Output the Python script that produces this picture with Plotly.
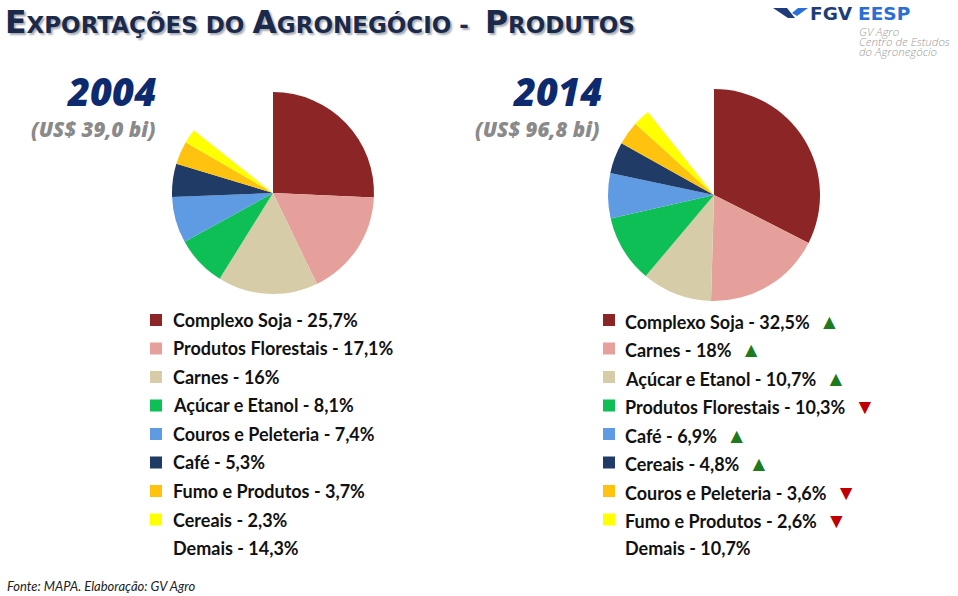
import plotly.graph_objects as go

# ---------------- data ----------------
cats_2004 = ["Complexo Soja", "Produtos Florestais", "Carnes", "Açúcar e Etanol",
             "Couros e Peleteria", "Café", "Fumo e Produtos", "Cereais", "Demais"]
vals_2004 = [25.7, 17.1, 16.0, 8.1, 7.4, 5.3, 3.7, 2.3, 14.3]

cats_2014 = ["Complexo Soja", "Carnes", "Açúcar e Etanol", "Produtos Florestais",
             "Café", "Cereais", "Couros e Peleteria", "Fumo e Produtos", "Demais"]
vals_2014 = [32.5, 18.0, 10.7, 10.3, 6.9, 4.8, 3.6, 2.6, 10.7]

slice_colors = ["#8C2626", "#E6A09C", "#D6CCA8", "#0DBF55", "#5E9BE2",
                "#1F3B66", "#FFC20E", "#FFFF00", "#FFFFFF"]

total_2004 = "US$ 39,0 bi"
total_2014 = "US$ 96,8 bi"

W, H = 958, 596


def fmt(v):
    s = f"{v:.1f}".replace(".", ",")
    return s[:-2] if s.endswith(",0") else s


def pie_domain(cx, cy, r):
    return dict(x=[(cx - r) / W, (cx + r) / W], y=[1 - (cy + r) / H, 1 - (cy - r) / H])


fig = go.Figure()
for cats, vals, (cx, cy, r) in [(cats_2004, vals_2004, (273, 193, 101)),
                                (cats_2014, vals_2014, (714, 195, 106))]:
    fig.add_trace(go.Pie(
        labels=cats, values=vals, sort=False, direction="clockwise", rotation=0,
        marker=dict(colors=slice_colors, line=dict(width=0)),
        textinfo="none", hoverinfo="label+percent", showlegend=False,
        domain=pie_domain(cx, cy, r),
    ))

annotations = []
shapes = []

# ---------------- title ----------------
big, small = 31.5, 23
title_html = (f"<span style='font-size:{big}px'>E</span>XPORTAÇÕES DO "
              f"<span style='font-size:{big}px'>A</span>GRONEGÓCIO -  "
              f"<span style='font-size:{big}px'>P</span>RODUTOS")
annotations.append(dict(
    text=f"<b>{title_html}</b>", x=3 / W, y=1 - 42 / H, xref="paper", yref="paper",
    xanchor="left", yanchor="bottom", showarrow=False,
    font=dict(family="DejaVu Sans", size=small, color="#1B2A4A",
              shadow="2px 2px 2px rgba(60,70,90,0.45)"),
))

# ---------------- year headers ----------------
for year, xr in [("2004", 158), ("2014", 604)]:
    annotations.append(dict(
        text=f"<i>{year}</i>", x=xr / W, y=1 - 91 / H, xref="paper", yref="paper",
        xanchor="right", yanchor="middle", showarrow=False,
        font=dict(family="Open Sans", size=38, color="#0E2A6E", weight=800),
    ))
for tot, xr in [(total_2004, 158), (total_2014, 602)]:
    annotations.append(dict(
        text=f"<i>({tot})</i>", x=xr / W, y=1 - 129 / H, xref="paper", yref="paper",
        xanchor="right", yanchor="middle", showarrow=False,
        font=dict(family="Open Sans", size=20.5, color="#8A8A8A", weight=800),
    ))

# ---------------- legends ----------------
row0, step = 320, 28.5
share_2004 = dict(zip(cats_2004, vals_2004))

for i, (c, v) in enumerate(zip(cats_2004, vals_2004)):
    y = row0 + i * step
    if i < len(cats_2004) - 1:
        shapes.append(dict(type="rect", xref="paper", yref="paper",
                           x0=150 / W, x1=162 / W, y0=1 - (y + 6) / H, y1=1 - (y - 6) / H,
                           fillcolor=slice_colors[i], line=dict(width=0)))
    annotations.append(dict(
        text=f"<b>{c} - {fmt(v)}%</b>", x=171 / W, y=1 - y / H, xref="paper", yref="paper",
        xanchor="left", yanchor="middle", showarrow=False,
        font=dict(family="Lato", size=18, color="#111111"),
    ))

for i, (c, v) in enumerate(zip(cats_2014, vals_2014)):
    y = row0 + i * step
    txt = f"<b>{c} - {fmt(v)}%</b>"
    if i < len(cats_2014) - 1:
        shapes.append(dict(type="rect", xref="paper", yref="paper",
                           x0=603 / W, x1=615 / W, y0=1 - (y + 6) / H, y1=1 - (y - 6) / H,
                           fillcolor=slice_colors[i], line=dict(width=0)))
        if v > share_2004.get(c, v):
            txt += "  <span style='color:#1E7A1E;font-size:21px'>▲</span>"
        elif v < share_2004.get(c, v):
            txt += "  <span style='color:#C00000;font-size:21px'>▼</span>"
    annotations.append(dict(
        text=txt, x=623 / W, y=1 - y / H, xref="paper", yref="paper",
        xanchor="left", yanchor="middle", showarrow=False,
        font=dict(family="Lato", size=18, color="#111111"),
    ))

# ---------------- logo ----------------
def P(x, y):
    return f"{x / W},{1 - y / H}"

shapes.append(dict(type="path", xref="paper", yref="paper",
                   path=f"M{P(773, 8)} L{P(787, 8)} L{P(795, 18)} L{P(788, 18)} Z",
                   fillcolor="#1F3C7A", line=dict(width=0)))
shapes.append(dict(type="path", xref="paper", yref="paper",
                   path=f"M{P(792, 13)} L{P(798, 8)} L{P(808, 8)} L{P(797, 16)} Z",
                   fillcolor="#2A6FD6", line=dict(width=0)))
annotations.append(dict(
    text="<b>FGV</b> <b><span style='color:#2A6FD6'>EESP</span></b>",
    x=808 / W, y=1 - 13.5 / H, xref="paper", yref="paper", xanchor="left", yanchor="middle",
    showarrow=False, font=dict(family="DejaVu Sans", size=18.5, color="#1F3C7A"),
))
for k, line in enumerate(["GV Agro", "Centro de Estudos", "do Agronegócio"]):
    annotations.append(dict(
        text=f"<i>{line}</i>", x=857 / W, y=1 - (31 + 10.5 * k) / H, xref="paper", yref="paper",
        xanchor="left", yanchor="middle", align="left", showarrow=False,
        font=dict(family="Open Sans", size=11.5, color="#9A9A9A", weight=300),
    ))

# ---------------- footer ----------------
annotations.append(dict(
    text="<i>Fonte: MAPA. Elaboração: GV Agro</i>", x=5 / W, y=1 - 586 / H,
    xref="paper", yref="paper", xanchor="left", yanchor="middle", showarrow=False,
    font=dict(family="Lato", size=13, color="#222222"),
))

fig.update_layout(
    width=W, height=H, margin=dict(l=0, r=0, t=0, b=0),
    paper_bgcolor="white", plot_bgcolor="white",
    annotations=annotations, shapes=shapes,
)

fig.write_html("out.html", config={"displayModeBar": False},
               post_script="document.body.style.margin='0';")
